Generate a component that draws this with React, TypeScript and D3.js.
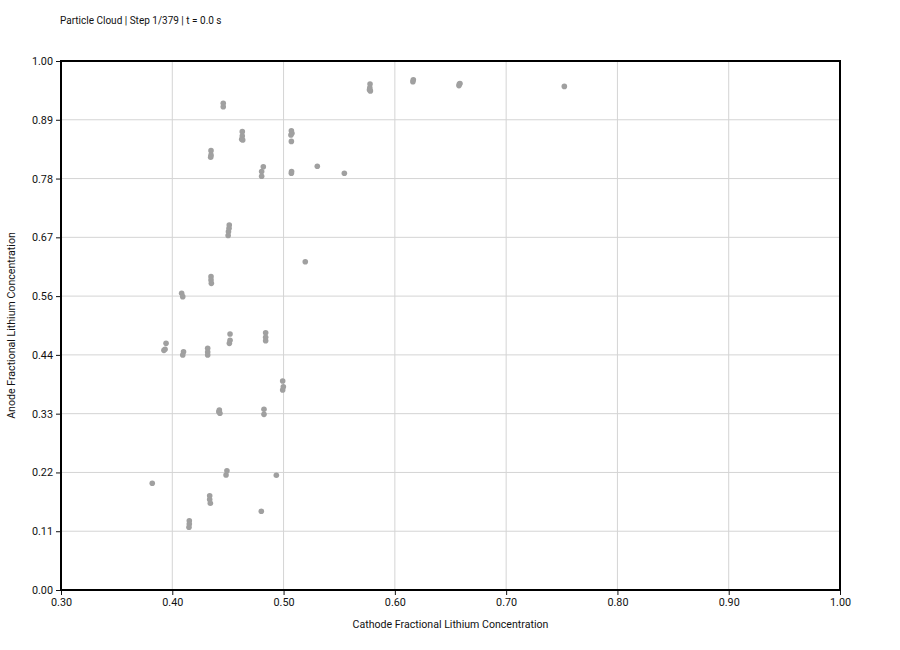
import { useEffect, useRef } from "react";
import * as d3 from "d3";

const titleText = "Particle Cloud | Step 1/379 | t = 0.0 s";
const xLabel = "Cathode Fractional Lithium Concentration";
const yLabel = "Anode Fractional Lithium Concentration";

const xTicks = [0.3, 0.4, 0.5, 0.6, 0.7, 0.8, 0.9, 1.0];
const yTicks = [0, 1, 2, 3, 4, 5, 6, 7, 8, 9].map((i) => i / 9);

// particle positions
const cathode = [
  0.5777, 0.5775, 0.578, 0.5772,
  0.6166, 0.6162,
  0.658, 0.6576, 0.6585,
  0.7523,
  0.4458, 0.4458,
  0.4629, 0.4629, 0.4624, 0.4633,
  0.507, 0.5066, 0.5075, 0.507,
  0.4348, 0.4348, 0.4345,
  0.4818, 0.4803, 0.4803, 0.507, 0.5072,
  0.5303, 0.5546,
  0.4512, 0.451, 0.4505, 0.4502,
  0.5195,
  0.4348, 0.4348, 0.4351,
  0.4084, 0.4094,
  0.3944, 0.3935, 0.3925,
  0.4101, 0.4094,
  0.4318, 0.4318, 0.4318,
  0.4519, 0.4519, 0.4513,
  0.4839, 0.4839, 0.4839,
  0.4992, 0.4998, 0.4992,
  0.4423, 0.4428, 0.4418,
  0.4824, 0.4824,
  0.382,
  0.4491, 0.4483,
  0.4935,
  0.4336, 0.4336, 0.4342,
  0.48,
  0.4153, 0.4153, 0.415,
];
const anode = [
  0.9565, 0.9495, 0.9435, 0.9455,
  0.9645, 0.961,
  0.9565, 0.9535, 0.9575,
  0.952,
  0.920, 0.9136,
  0.8664, 0.858, 0.852, 0.8507,
  0.868, 0.860, 0.8633, 0.848,
  0.8305, 0.822, 0.818,
  0.800, 0.791, 0.782, 0.788, 0.791,
  0.801, 0.7877,
  0.690, 0.6837, 0.6774, 0.670,
  0.6206,
  0.5923, 0.586, 0.5797,
  0.561, 0.5545,
  0.4663, 0.455, 0.453,
  0.4505, 0.4442,
  0.457, 0.450, 0.4442,
  0.4839, 0.472, 0.4663,
  0.4864, 0.4776, 0.4713,
  0.3951, 0.3843, 0.378,
  0.3403, 0.334, 0.337,
  0.3416, 0.332,
  0.2017,
  0.2255, 0.2174,
  0.2168,
  0.178, 0.171, 0.1639,
  0.1488,
  0.131, 0.1247, 0.1185,
];

const ParticleChart = () => {
  const svgRef = useRef<SVGSVGElement | null>(null);

  useEffect(() => {
    document.body.style.margin = "0";
    const width = 900;
    const height = 650;
    const svg = d3.select(svgRef.current);
    svg.selectAll("*").remove();

    const margin = { top: 61, right: 60, bottom: 60, left: 61 };
    const innerWidth = width - margin.left - margin.right;
    const innerHeight = height - margin.top - margin.bottom;
    const font = "Roboto, 'Liberation Sans', sans-serif";

    const g = svg
      .append("g")
      .attr("transform", `translate(${margin.left},${margin.top})`);

    const x = d3.scaleLinear().domain([0.3, 1.0]).range([0, innerWidth]);
    const y = d3.scaleLinear().domain([0, 1]).range([innerHeight, 0]);

    // grid
    g.append("g")
      .selectAll("line")
      .data(xTicks)
      .join("line")
      .attr("x1", (d) => x(d))
      .attr("x2", (d) => x(d))
      .attr("y1", 0)
      .attr("y2", innerHeight)
      .attr("stroke", "#d4d4d4")
      .attr("stroke-width", 1);
    g.append("g")
      .selectAll("line")
      .data(yTicks)
      .join("line")
      .attr("x1", 0)
      .attr("x2", innerWidth)
      .attr("y1", (d) => y(d))
      .attr("y2", (d) => y(d))
      .attr("stroke", "#d4d4d4")
      .attr("stroke-width", 1);

    const xAxis = g
      .append("g")
      .attr("transform", `translate(0,${innerHeight})`)
      .call(
        d3
          .axisBottom(x)
          .tickValues(xTicks)
          .tickSize(5)
          .tickPadding(3)
          .tickFormat((d) => d3.format(".2f")(d as number))
      );
    const yAxis = g.append("g").call(
      d3
        .axisLeft(y)
        .tickValues(yTicks)
        .tickSize(5)
        .tickPadding(3)
        .tickFormat((d) => d3.format(".2f")(d as number))
    );
    [xAxis, yAxis].forEach((a) => {
      a.select(".domain").remove();
      a.selectAll("text")
        .attr("font-family", font)
        .attr("font-size", 10.8)
        .attr("fill", "#111");
      a.selectAll(".tick line").attr("stroke", "#111");
    });

    g.append("g")
      .selectAll("circle")
      .data(cathode.map((c, i) => [c, anode[i]]))
      .join("circle")
      .attr("cx", (d) => x(d[0]))
      .attr("cy", (d) => y(d[1]))
      .attr("r", 2.8)
      .attr("fill", "#a0a0a0");

    g.append("rect")
      .attr("x", 0)
      .attr("y", 0)
      .attr("width", innerWidth)
      .attr("height", innerHeight)
      .attr("fill", "none")
      .attr("stroke", "#000")
      .attr("stroke-width", 2);

    svg
      .append("text")
      .attr("x", 60)
      .attr("y", 24)
      .attr("font-family", font)
      .attr("font-size", 10)
      .attr("fill", "#111")
      .text(titleText);

    svg
      .append("text")
      .attr("x", margin.left + innerWidth / 2)
      .attr("y", 628)
      .attr("text-anchor", "middle")
      .attr("font-family", font)
      .attr("font-size", 10.6)
      .attr("fill", "#111")
      .text(xLabel);

    svg
      .append("text")
      .attr("transform", `translate(15,${margin.top + innerHeight / 2}) rotate(-90)`)
      .attr("text-anchor", "middle")
      .attr("font-family", font)
      .attr("font-size", 10.6)
      .attr("fill", "#111")
      .text(yLabel);
  }, []);

  return <svg ref={svgRef} width={900} height={650} style={{ display: "block" }} />;
};

export default function App() {
  return <ParticleChart />;
}
